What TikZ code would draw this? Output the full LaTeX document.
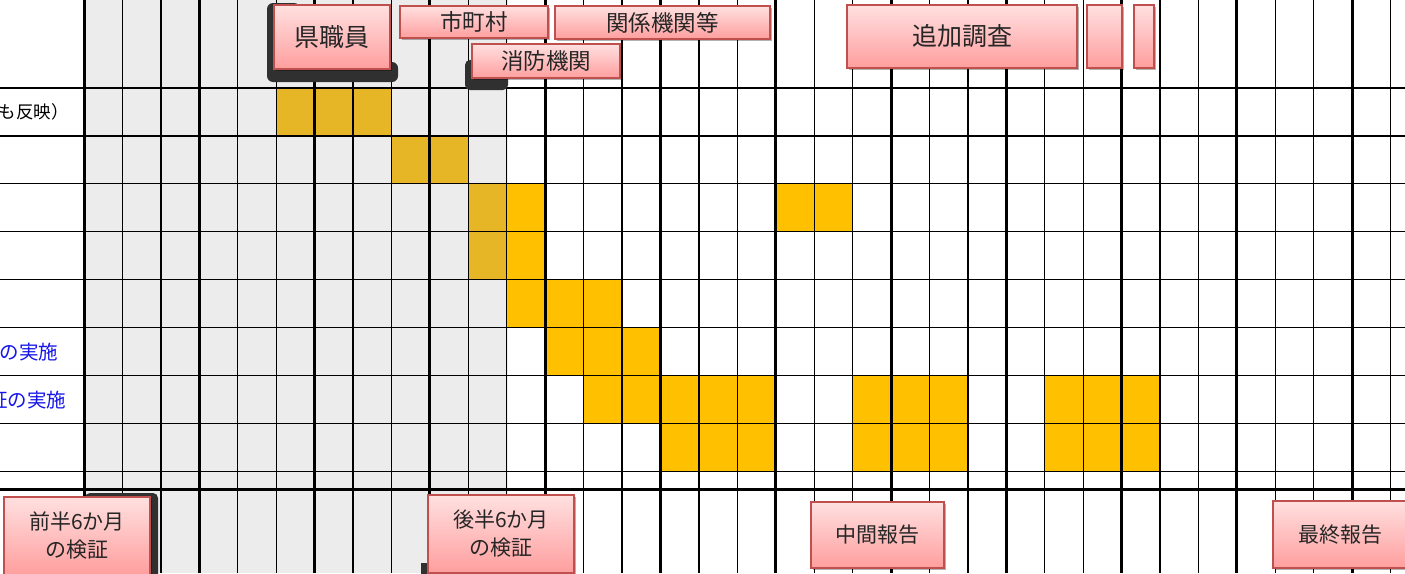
\documentclass[tikz,border=0pt]{standalone}
\usepackage{fontspec}
\setmainfont{Noto Sans CJK JP}
\usetikzlibrary{shadows}

\definecolor{cellgold}{RGB}{255,192,0}
\definecolor{cellshade}{RGB}{231,182,38}
\definecolor{pastgray}{RGB}{236,236,236}
\definecolor{boxred}{RGB}{192,80,77}
\definecolor{pinktop}{RGB}{255,224,224}
\definecolor{pinkbot}{RGB}{255,158,158}
\definecolor{shadowdark}{RGB}{48,48,48}
\definecolor{labelblue}{RGB}{20,20,235}

\tikzset{
  pinkbox/.style={draw=boxred,line width=1.6pt,top color=pinktop,bottom color=pinkbot,
    inner sep=0pt,align=center,text=black!85,
    drop shadow={shadow xshift=2pt,shadow yshift=-2pt,opacity=.3,fill=black}},
  pinkbig/.style={pinkbox,font=\fontsize{25}{29}\selectfont},
  pinkmid/.style={pinkbox,font=\fontsize{22.5}{26}\selectfont},
  pinklow/.style={pinkbox,font=\fontsize{21}{28}\selectfont},
  gridthin/.style={line width=1.3pt},
  gridthick/.style={line width=3pt},
}

\begin{document}
\begin{tikzpicture}[x=1pt,y=-1pt]
	\clip (0,0) rectangle (1405,573);
	\fill[white] (0,0) rectangle (1405,573);
	
	% months already past
	\fill[pastgray] (84,0) rectangle (508,573);
	
	% bars
	\foreach \c/\r in {5/1,6/1,7/1,8/2,9/2,10/3,10/4}
		\fill[cellshade] ({84+38.43*\c},{88+47.9*(\r-1)}) rectangle ++(38.43,47.9);
	\foreach \c/\r in {11/3,18/3,19/3,11/4,11/5,12/5,13/5,12/6,13/6,14/6,
	                   13/7,14/7,15/7,16/7,17/7,20/7,21/7,22/7,25/7,26/7,27/7,
	                   15/8,16/8,17/8,20/8,21/8,22/8,25/8,26/8,27/8}
		\fill[cellgold] ({84+38.43*\c},{88+47.9*(\r-1)}) rectangle ++(38.43,47.9);
	
	% grid
	\foreach \i in {0,...,34} {
		\pgfmathtruncatemacro\quarter{mod(\i,3)}
		\ifnum\quarter=0
			\draw[gridthick] ({84+38.43*\i},0) -- ({84+38.43*\i},573);
		\else
			\draw[gridthin] ({84+38.43*\i},0) -- ({84+38.43*\i},573);
		\fi
	}
	\foreach \j in {0,...,8}
		\draw[gridthin] (0,{88+47.9*\j}) -- (1405,{88+47.9*\j});
	\draw[gridthick] (0,489) -- (1405,489);
	
	% row labels
	\node [anchor=east,inner sep=0pt,font=\fontsize{17.5}{20}\selectfont]                (hanei)   at (69,112)   {も反映）};
	\node [anchor=east,inner sep=0pt,text=labelblue,font=\fontsize{19.5}{22}\selectfont] (jisshiA) at (58.5,352) {の実施};
	\node [anchor=east,inner sep=0pt,text=labelblue,font=\fontsize{19.5}{22}\selectfont] (jisshiB) at (66.5,400) {証の実施};
	
	% dark shadows
	\fill[shadowdark,rounded corners=6pt] (267,3) -- (300,3) -- (300,62) -- (398,62) -- (398,82) -- (267,82) -- cycle;
	\fill[shadowdark,rounded corners=5pt] (465,60) rectangle (508,90);
	\fill[shadowdark,rounded corners=5pt] (85,493) rectangle (158,590);
	\fill[shadowdark] (421,563) rectangle (430,590);
	
	% boxes
	\node [pinkbig,minimum width=116pt,minimum height=64pt] (kenshokuin) at (332,37)    {県職員};
	\node [pinkmid,minimum width=148pt,minimum height=32pt] (shichoson)  at (474,22)    {市町村};
	\node [pinkmid,minimum width=215pt,minimum height=33pt] (kankei)     at (662.5,22.5){関係機関等};
	\node [pinkmid,minimum width=148pt,minimum height=34pt] (shobo)      at (546,61)    {消防機関};
	\node [pinkbig,minimum width=230pt,minimum height=63pt] (tsuika)     at (962,36.5)  {追加調査};
	\node [pinkbox,minimum width=35pt,minimum height=63pt]  (tsuikaB)    at (1104.5,36.5) {};
	\node [pinkbox,minimum width=20pt,minimum height=63pt]  (tsuikaC)    at (1144,36.5) {};
	
	\node [pinklow,minimum width=146pt,minimum height=78pt] (zenhan)     at (77,536)    {前半6か月\\の検証};
	\node [pinklow,minimum width=146pt,minimum height=78pt] (kohan)      at (501,534)   {後半6か月\\の検証};
	\node [pinklow,minimum width=133pt,minimum height=66pt] (chukan)     at (877.5,535) {中間報告};
	\node [pinklow,minimum width=134pt,minimum height=67pt] (saishu)     at (1340,534.5){最終報告};
\end{tikzpicture}
\end{document}
